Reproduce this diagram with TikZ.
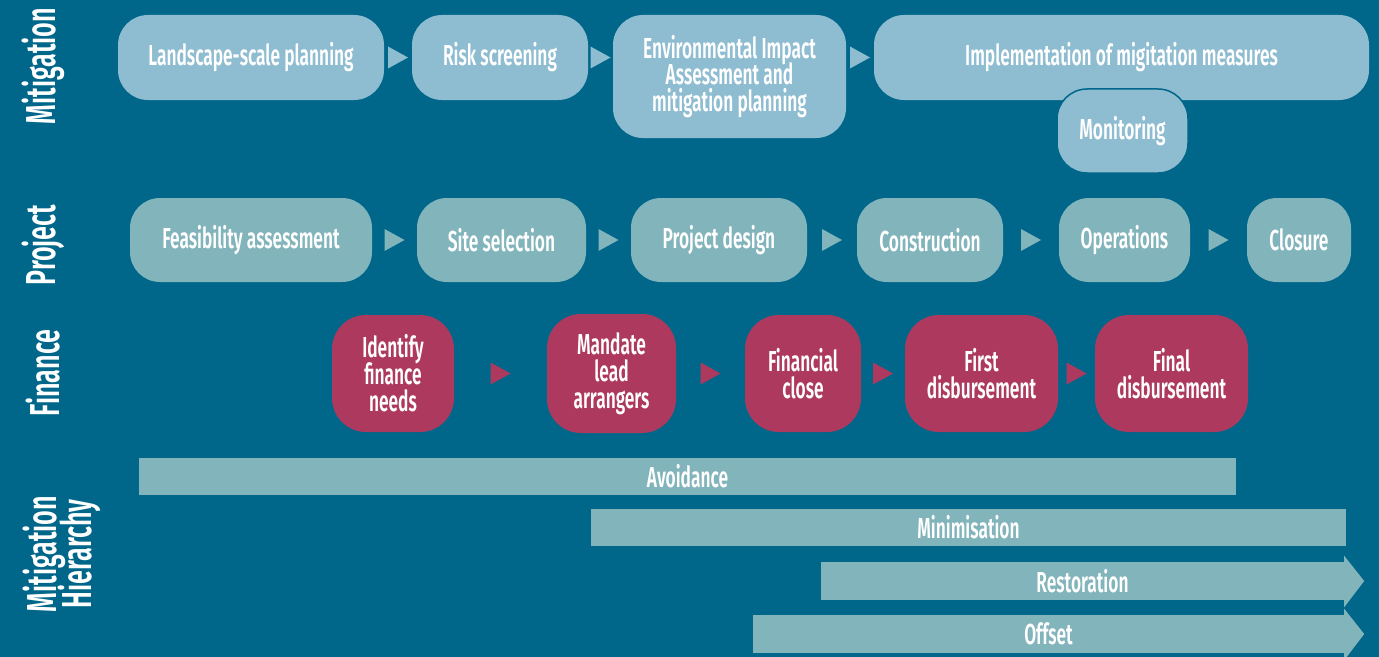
\documentclass[tikz,border=0pt]{standalone}
\usepackage{fontspec}
\setmainfont{Fira Sans SemiBold}[FakeStretch=0.6]
\usetikzlibrary{calc}
\definecolor{bg}{RGB}{0,103,138}
\definecolor{mitc}{RGB}{142,188,208}
\definecolor{projc}{RGB}{130,180,187}
\definecolor{finc}{RGB}{173,58,94}
% small triangle between two step boxes; #3 gives the row height, #4 the colour
\newcommand\steptri[4]{%
  \path ($(#1.east)!0.5!(#2.west)$) coordinate (tmid);
  \fill[#4] (tmid |- #3.east) ++(-10,-11) -- ++(20,11) -- ++(-20,11) -- cycle;}
% arrow head on the right end of a hierarchy bar
\newcommand\barhead[1]{%
  \fill[projc] (#1.north east) ++(0,-6) -- ($(#1.east)+(20,0)$) -- ($(#1.south east)+(0,7)$) -- cycle;}
\begin{document}
% keep a fixed baseline distance in multi-line labels
\lineskiplimit=-100pt
\begin{tikzpicture}[x=1bp,y=-1bp,
  every node/.style={text=white, font=\fontsize{29}{27}\selectfont, align=center, inner sep=0pt},
  mitbox/.style={fill=mitc, rounded corners=30bp},
  projbox/.style={fill=projc, rounded corners=30bp},
  finbox/.style={fill=finc, rounded corners=34bp},
  hbar/.style={fill=projc},
  rowlabel/.style={rotate=90, font=\fontsize{42}{35}\selectfont},
]
\useasboundingbox[fill=bg] (0,0) rectangle (1379,657);

% row labels
\node[rowlabel] (lmit) at (43,66) {Mitigation};
\node[rowlabel] (lproj) at (43,245) {Project};
\node[rowlabel] (lfin) at (43,373) {Finance};
\node[rowlabel] (lhier) at (62,554) {Mitigation\\Hierarchy};

% mitigation steps
\node[mitbox, minimum width=266bp, minimum height=85bp] (land) at (251,57.5) {Landscape-scale planning};
\node[mitbox, minimum width=176bp, minimum height=85bp] (risk) at (500,57.5) {Risk screening};
\node[mitbox, minimum width=233bp, minimum height=123bp] (eia) at (729.5,76.5) {Environmental Impact\\Assessment and\\mitigation planning};
\node[mitbox, minimum width=495bp, minimum height=85bp] (impl) at (1121.5,57.5) {Implementation of migitation measures};
\node[mitbox, draw=bg, line width=1.5bp, minimum width=131bp, minimum height=84bp] (mon) at (1122.5,131) {Monitoring};
\steptri{land}{risk}{land}{mitc}
\steptri{risk}{eia}{risk}{mitc}
\steptri{eia}{impl}{impl}{mitc}

% project steps
\node[projbox, minimum width=242bp, minimum height=84bp] (feas) at (251,240) {Feasibility assessment};
\node[projbox, minimum width=169bp, minimum height=84bp] (site) at (501.5,240) {Site selection};
\node[projbox, minimum width=176bp, minimum height=84bp] (design) at (719,240) {Project design};
\node[projbox, minimum width=146bp, minimum height=84bp] (constr) at (930,240) {Construction};
\node[projbox, minimum width=131bp, minimum height=84bp] (oper) at (1124.5,240) {Operations};
\node[projbox, minimum width=104bp, minimum height=84bp] (clos) at (1299,240) {Closure};
\steptri{feas}{site}{feas}{projc}
\steptri{site}{design}{site}{projc}
\steptri{design}{constr}{design}{projc}
\steptri{constr}{oper}{constr}{projc}
\steptri{oper}{clos}{oper}{projc}

% finance steps
\node[finbox, minimum width=122bp, minimum height=117bp] (ident) at (393,373.5) {Identify\\finance\\needs};
\node[finbox, minimum width=129bp, minimum height=119bp] (mand) at (611.5,373.5) {Mandate\\lead\\arrangers};
\node[finbox, minimum width=116bp, minimum height=117bp] (fclose) at (803,373.5) {Financial\\close};
\node[finbox, minimum width=153bp, minimum height=117bp] (first) at (981.5,373.5) {First\\disbursement};
\node[finbox, minimum width=153bp, minimum height=117bp] (final) at (1171.5,373.5) {Final\\disbursement};
\steptri{ident}{mand}{ident}{finc}
\steptri{mand}{fclose}{mand}{finc}
\steptri{fclose}{first}{fclose}{finc}
\steptri{first}{final}{first}{finc}

% mitigation hierarchy bars
\node[hbar, minimum width=1097bp, minimum height=37bp] (avoid) at (687.5,476.5) {Avoidance};
\node[hbar, minimum width=755bp, minimum height=37bp] (mini) at (968.5,527.5) {Minimisation};
\node[hbar, minimum width=523bp, minimum height=38bp] (rest) at (1082.5,581) {Restoration};
\barhead{rest}
\node[hbar, minimum width=591bp, minimum height=38bp] (offs) at (1048.5,634) {Offset};
\barhead{offs}
\end{tikzpicture}
\end{document}
